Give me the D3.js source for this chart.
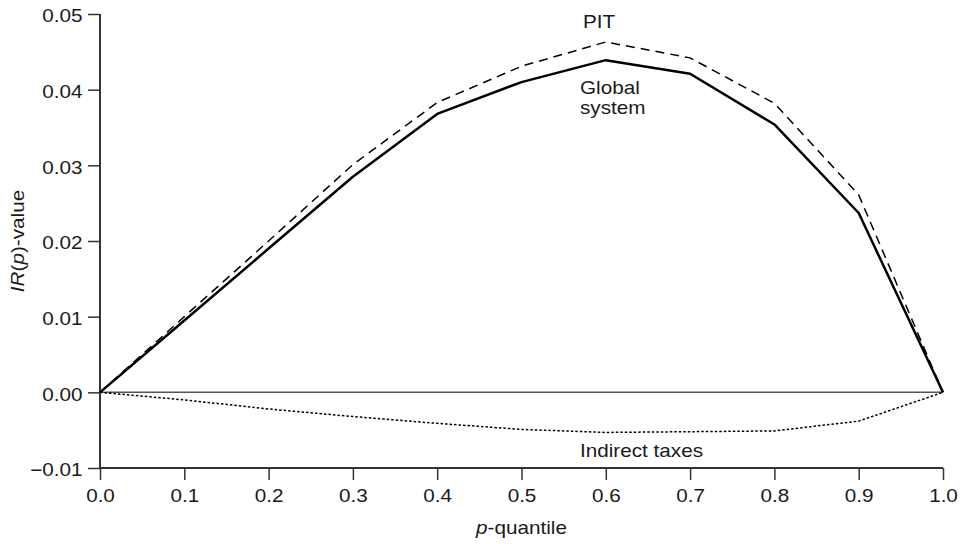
<!DOCTYPE html>
<html>
<head>
<meta charset="utf-8">
<script src="https://cdn.jsdelivr.net/npm/d3@7"></script>
<style>
	body { margin: 0; background: #fff; }
	text { font-family: "Liberation Sans", Arial, sans-serif; fill: #1a1a1a; }
</style>
</head>
<body>
<div id="chart"></div>
<script>
var quantiles = [0.0, 0.1, 0.2, 0.3, 0.4, 0.5, 0.6, 0.7, 0.8, 0.9, 1.0];
var globalSystem = [0, 0.0095, 0.0190, 0.0285, 0.0368, 0.0410, 0.0439, 0.0421, 0.0354, 0.0237, 0];
var pit = [0, 0.0100, 0.0200, 0.0301, 0.0383, 0.0431, 0.0463, 0.0442, 0.0382, 0.0261, 0];
var indirectTaxes = [0, -0.0010, -0.0022, -0.0032, -0.0041, -0.0049, -0.0053, -0.0052, -0.0051, -0.0038, 0];
var xTicks = [0, 0.1, 0.2, 0.3, 0.4, 0.5, 0.6, 0.7, 0.8, 0.9, 1.0];
var yTicks = [-0.01, 0, 0.01, 0.02, 0.03, 0.04, 0.05];

var width = 964, height = 544;
var plotLeft = 100, plotRight = 943, plotTop = 14, plotBottom = 468;
var stretch = 1.15; // glyphs in the original are a bit wide
var fontSize = 18;

var x = d3.scaleLinear().domain([0, 1]).range([plotLeft, plotRight]);
var y = d3.scaleLinear().domain([-0.01, 0.05]).range([plotBottom, plotTop]);

var svg = d3.select('#chart').append('svg')
	.attr('width', width)
	.attr('height', height);

// zero line
svg.append('line')
	.attr('x1', x(0)).attr('x2', x(1))
	.attr('y1', y(0)).attr('y2', y(0))
	.attr('stroke', '#555').attr('stroke-width', 1.5);

var fmtY = function(d){ return d < 0 ? '\u2212' + d3.format('.2f')(-d) : d3.format('.2f')(d); };

var yAxis = svg.append('g')
	.attr('transform', 'translate(' + plotLeft + ',0)')
	.call(d3.axisLeft(y).tickValues(yTicks).tickFormat(fmtY).tickSize(12).tickPadding(4));
var xAxis = svg.append('g')
	.attr('transform', 'translate(0,' + plotBottom + ')')
	.call(d3.axisBottom(x).tickValues(xTicks).tickFormat(d3.format('.1f')).tickSize(12).tickPadding(9));

[yAxis, xAxis].forEach(function(g){
	g.select('.domain').attr('stroke', '#333').attr('stroke-width', 2);
	g.selectAll('.tick line').attr('stroke', '#333').attr('stroke-width', 1.5);
	g.selectAll('.tick text')
		.attr('font-size', fontSize)
		.attr('fill', '#1a1a1a')
		.style('font-family', '"Liberation Sans", Arial, sans-serif');
});
// plain axis lines, no end caps
yAxis.select('.domain').attr('d', 'M0,' + plotTop + 'V' + plotBottom);
xAxis.select('.domain').attr('d', 'M' + plotLeft + ',0H' + plotRight);
yAxis.selectAll('.tick text').attr('transform', 'translate(0,2) scale(' + stretch + ',1)').attr('x', -15.2);
xAxis.selectAll('.tick text').attr('transform', 'scale(' + stretch + ',1)');

var line = function(values){
	return d3.line()
		.x(function(d, i){ return x(quantiles[i]); })
		.y(function(d){ return y(d); })(values);
};

svg.append('path')
	.attr('d', line(pit))
	.attr('fill', 'none')
	.attr('stroke', '#000')
	.attr('stroke-width', 1.5)
	.attr('stroke-dasharray', '9,6');
svg.append('path')
	.attr('d', line(globalSystem))
	.attr('fill', 'none')
	.attr('stroke', '#000')
	.attr('stroke-width', 2.5)
	.attr('stroke-linejoin', 'round');
svg.append('path')
	.attr('d', line(indirectTaxes))
	.attr('fill', 'none')
	.attr('stroke', '#000')
	.attr('stroke-width', 1.5)
	.attr('stroke-dasharray', '2.5,2');

var label = function(lx, ly, anchor, rotate){
	return svg.append('text')
		.attr('font-size', fontSize)
		.attr('text-anchor', anchor || 'start')
		.attr('transform', 'translate(' + lx + ',' + ly + ')' + (rotate ? ' rotate(' + rotate + ')' : '') + ' scale(' + stretch + ',1)');
};

label(583, 28).text('PIT');
label(580, 94).text('Global');
label(580, 114).text('system');
label(580, 457).text('Indirect taxes');

var xl = label(x(0.5), 534, 'middle');
xl.append('tspan').attr('font-style', 'italic').text('p');
xl.append('tspan').text('-quantile');

var yl = label(24, (plotTop + plotBottom) / 2, 'middle', -90);
yl.append('tspan').attr('font-style', 'italic').text('IR');
yl.append('tspan').text('(');
yl.append('tspan').attr('font-style', 'italic').text('p');
yl.append('tspan').text(')-value');
</script>
</body>
</html>
